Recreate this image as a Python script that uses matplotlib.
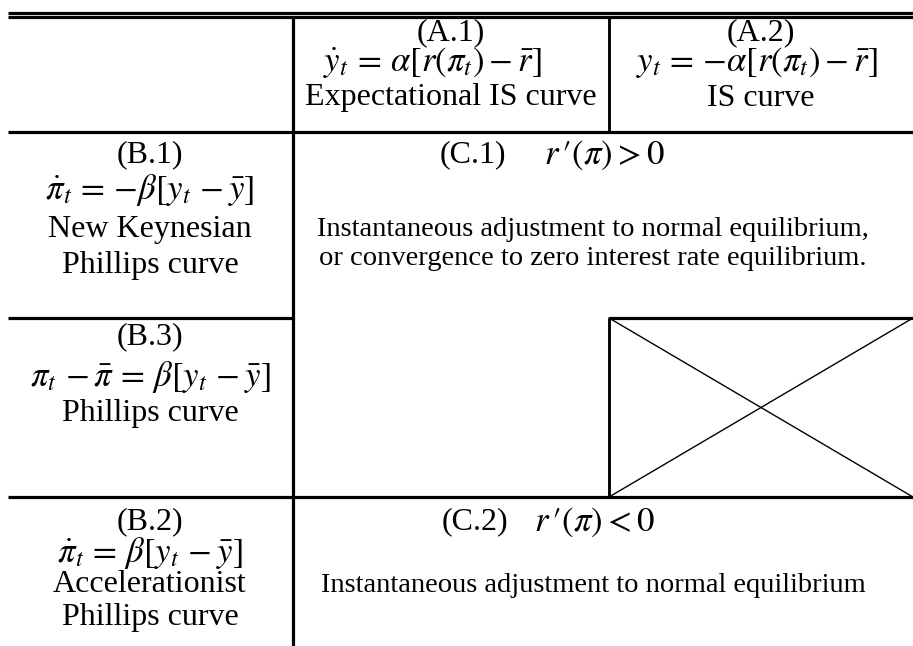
import matplotlib
matplotlib.use("Agg")
import matplotlib.pyplot as plt

plt.rcParams['font.family'] = ['Liberation Serif', 'DejaVu Serif']
plt.rcParams['mathtext.fontset'] = 'stix'

# table contents
header_labels = ['(A.1)', '(A.2)']
header_eqs = [r'$\dot{y}_t\, =\, \alpha[r(\pi_t) - \bar{r}]$',
              r'$y_t\, =\, {-}\alpha[r(\pi_t) - \bar{r}]$']
header_names = ['Expectational IS curve', 'IS curve']

row_labels = ['(B.1)', '(B.3)', '(B.2)']
row_eqs = [r'$\dot{\pi}_t\, =\, {-}\beta[y_t\, - \bar{y}]$',
           r'$\pi_t\, - \bar{\pi}\, =\, \beta[y_t\, - \bar{y}]$',
           r'$\dot{\pi}_t\, =\, \beta[y_t\, - \bar{y}]$']
row_names = [['New Keynesian', 'Phillips curve'],
             ['Phillips curve'],
             ['Accelerationist', 'Phillips curve']]

case_labels = ['(C.1)', '(C.2)']
case_conds = [r"$r\,′(\pi) > 0$", r"$r\,′(\pi) < 0$"]
case_texts = ['Instantaneous adjustment to normal equilibrium,\n'
              'or convergence to zero interest rate equilibrium.',
              'Instantaneous adjustment to normal equilibrium']

# layout (pixel grid of the 913x646 picture)
W, H = 913, 646
x_left, x_mid, x_div, x_right = 8, 293, 609, W
y_top1, y_top2, y_head, y_b13, y_b2 = 12.5, 17, 132, 318, 497

fig = plt.figure(figsize=(W / 100, H / 100), dpi=100)
ax = fig.add_axes([0, 0, 1, 1])
ax.set_xlim(0, W)
ax.set_ylim(H, 0)
ax.axis('off')

lw = 2.3
ax.hlines([y_top1, y_top2, y_head, y_b2], x_left, x_right, color='black', lw=lw)
ax.hlines(y_b13, x_left, x_mid, color='black', lw=lw)
ax.hlines(y_b13, x_div, x_right, color='black', lw=lw)
ax.vlines(x_mid, y_top2, H, color='black', lw=lw)
ax.vlines(x_div, y_top2, y_head, color='black', lw=lw * 0.9)
ax.vlines(x_div, y_b13, y_b2, color='black', lw=lw * 0.9)
# crossed-out box
ax.plot([x_div, x_right], [y_b13, y_b2], color='black', lw=1.0)
ax.plot([x_div, x_right], [y_b2, y_b13], color='black', lw=1.0)

fs_txt = 23
fs_eq = 25
fs_case = 20.5

# header row
head_x = [(x_mid + x_div) / 2, (x_div + x_right) / 2]
head_eq_x = [432, 757]
for i in range(2):
    ax.text(head_x[i], 33, header_labels[i], ha='center', va='center', fontsize=fs_txt)
    ax.text(head_eq_x[i], 63, header_eqs[i], ha='center', va='center', fontsize=fs_eq)
    ax.text(head_x[i], 98, header_names[i], ha='center', va='center', fontsize=fs_txt)

# left column
left_x = 150
row_y = [[155, 190, 229, 265], [337, 377, 413], [522, 553, 585, 618]]
for i in range(3):
    ys = row_y[i]
    ax.text(left_x, ys[0], row_labels[i], ha='center', va='center', fontsize=fs_txt)
    ax.text(left_x, ys[1], row_eqs[i], ha='center', va='center', fontsize=fs_eq)
    for name, y in zip(row_names[i], ys[2:]):
        ax.text(left_x, y, name, ha='center', va='center', fontsize=fs_txt)

# case cells
case_x = 593
case_y = [155, 522]
label_left = [440, 442]
cond_right = [665, 655]
for i in range(2):
    ax.text(label_left[i], case_y[i], case_labels[i], ha='left', va='center', fontsize=fs_txt)
    ax.text(cond_right[i], case_y[i], case_conds[i], ha='right', va='center', fontsize=fs_eq)
ax.text(case_x, 244, case_texts[0], ha='center', va='center',
        fontsize=fs_case, linespacing=1.25)
ax.text(case_x, 585, case_texts[1], ha='center', va='center', fontsize=fs_case)

fig.savefig('out.png', dpi=100)
